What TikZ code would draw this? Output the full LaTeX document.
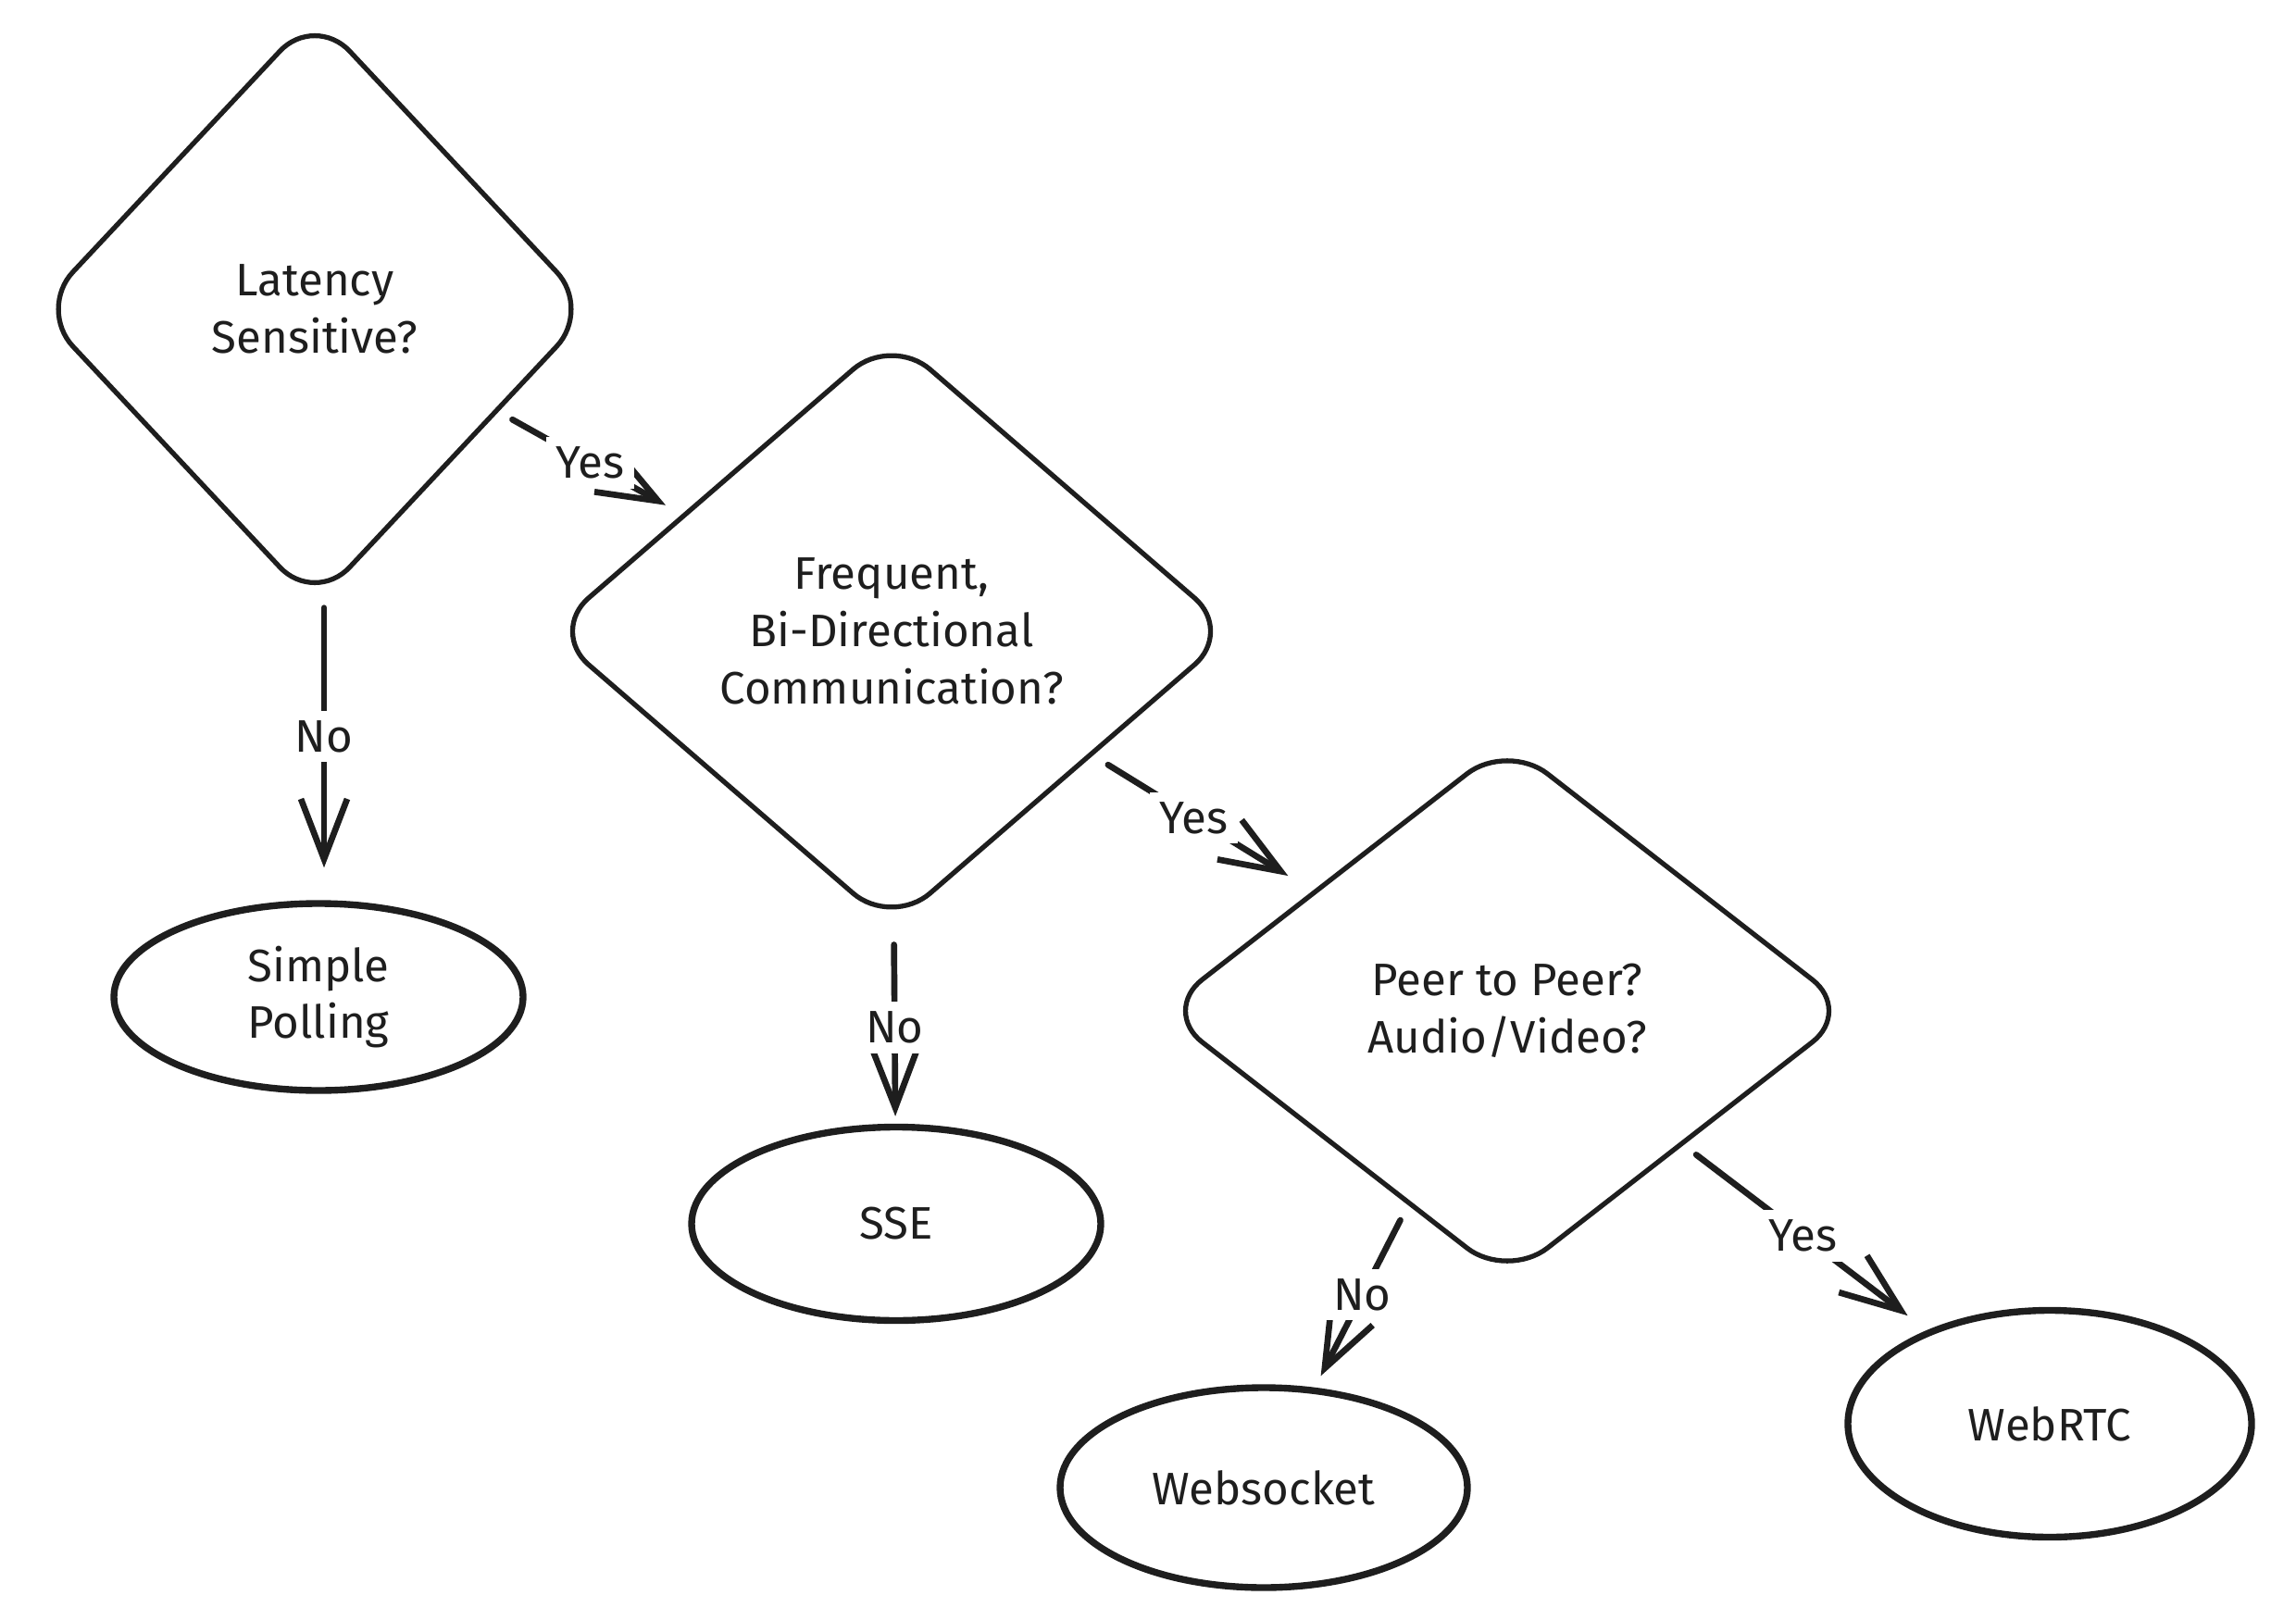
\documentclass[tikz,border=0pt]{standalone}
\usepackage{fontspec}
\setmainfont{Fira Sans}
\usetikzlibrary{shapes.geometric,arrows.meta}
\definecolor{ink}{HTML}{1E1E1E}

\begin{document}
\begin{tikzpicture}[
  every node/.style={font=\fontsize{14}{17.6}\selectfont, text=ink},
  decision/.style={diamond, draw=ink, line width=1.5pt, rounded corners=0.55cm,
                   inner sep=0pt, align=center},
  outcome/.style={ellipse, draw=ink, line width=2.1pt, inner sep=0pt, align=center},
  flow/.style={draw=ink, line width=1.9pt, line cap=round,
               -{Straight Barb[length=6.5mm,width=5mm,line width=1.9pt]}},
  lbl/.style={fill=white, inner sep=3pt}
]
\useasboundingbox (0,0) rectangle (24.8,-17.5);

% decisions
\node[decision, minimum width=6.0cm, minimum height=6.4cm] (lat) at (3.40,-3.34)
  {Latency\\Sensitive?};
\node[decision, minimum width=7.4cm, minimum height=6.4cm] (freq) at (9.63,-6.82)
  {Frequent,\\Bi-Directional\\Communication?};
\node[decision, minimum width=7.48cm, minimum height=5.82cm] (peer) at (16.28,-10.92)
  {Peer to Peer?\\Audio/Video?};

% outcomes
\node[outcome, minimum width=4.42cm, minimum height=2.02cm] (poll) at (3.44,-10.77)
  {Simple\\Polling};
\node[outcome, minimum width=4.42cm, minimum height=2.09cm] (sse) at (9.68,-13.22)
  {SSE};
\node[outcome, minimum width=4.40cm, minimum height=2.16cm] (ws) at (13.65,-16.07)
  {Websocket};
\node[outcome, minimum width=4.36cm, minimum height=2.45cm] (rtc) at (22.14,-15.38)
  {WebRTC};

% connectors
\draw[flow, shorten <=0.17cm, shorten >=0.2cm] (lat) -- node[lbl, pos=0.5] {Yes} (freq);
\draw[flow, shorten >=0.35cm] ([xshift=0.1cm]lat.south) -- node[lbl, pos=0.44] {No}
  ([xshift=0.06cm]poll.north);
\draw[flow, shorten <=0.19cm, shorten >=0.31cm] (freq) -- node[lbl, pos=0.46] {Yes} (peer);
\draw[flow, shorten <=0.18cm, shorten >=0.08cm] (freq) -- node[lbl, pos=0.51] {No} (sse);
\draw[flow, shorten <=0.18cm, shorten >=0.14cm] (peer) -- node[lbl, pos=0.49] {No} (ws);
\draw[flow, shorten <=0.17cm, shorten >=0.26cm] (peer) -- node[lbl, pos=0.49] {Yes} (rtc);
\end{tikzpicture}
\end{document}
